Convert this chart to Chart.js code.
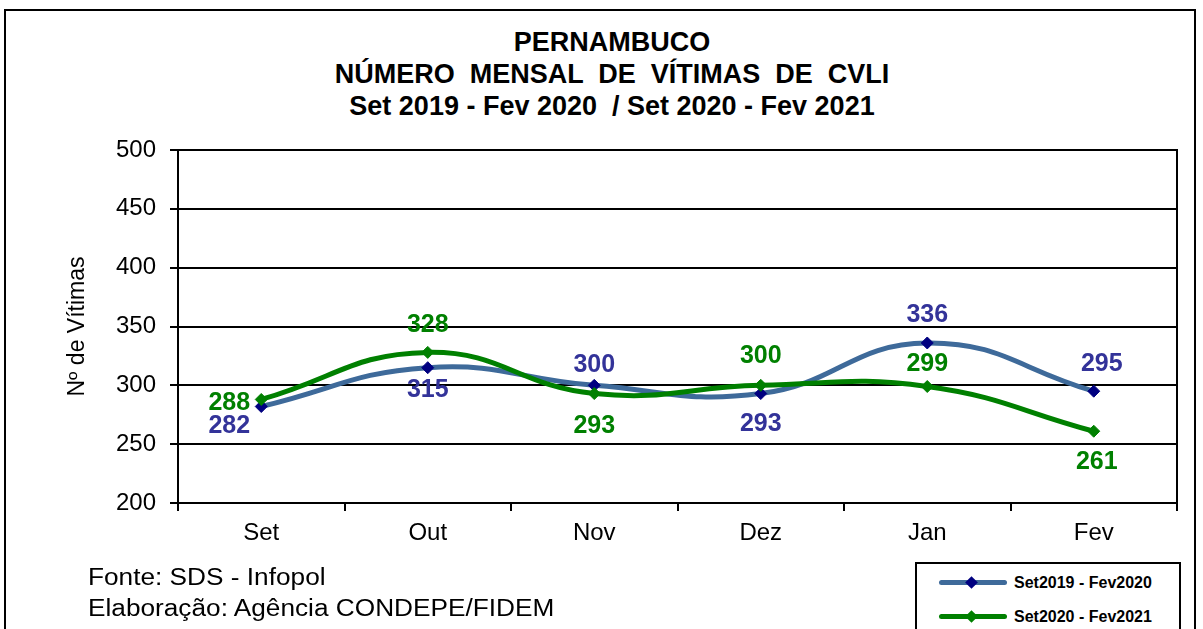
<!DOCTYPE html>
<html><head><meta charset="utf-8">
<script src="https://cdn.jsdelivr.net/npm/chart.js@4.4.0/dist/chart.umd.min.js"></script>
<style>
html,body{margin:0;padding:0;background:#fff;}
#wrap{position:relative;width:1203px;height:629px;overflow:hidden;font-family:"Liberation Sans",Arial,sans-serif;}
#frame{position:absolute;left:4px;top:9px;width:1192px;height:640px;border:2px solid #000;box-sizing:border-box;}
#title{position:absolute;left:2px;width:1220px;top:26px;text-align:center;font-weight:bold;font-size:27px;line-height:32px;white-space:pre;color:#000;}
canvas{position:absolute;left:0;top:0;}
.foot{position:absolute;left:88px;font-size:23px;line-height:27px;color:#000;white-space:pre;transform:scaleX(1.14);transform-origin:0 0;}
#legend{position:absolute;left:915px;top:562px;width:266px;height:80px;border:2px solid #000;box-sizing:border-box;background:#fff;}
.li{position:absolute;left:22px;height:20px;}
.li .ln{position:absolute;left:0;top:7px;width:68px;height:5px;border-radius:3px;}
.li .dm{position:absolute;left:28px;top:5px;width:9px;height:9px;transform:rotate(45deg);}
.li .tx{position:absolute;left:75px;top:0;font-weight:bold;font-size:16px;white-space:pre;line-height:20px;}
</style></head>
<body><div id="wrap">
<div id="frame"></div>
<div id="title">PERNAMBUCO
NÚMERO  MENSAL  DE  VÍTIMAS  DE  CVLI
Set 2019 - Fev 2020  / Set 2020 - Fev 2021</div>
<canvas id="c" width="1203" height="629"></canvas>
<div class="foot" style="top:564px">Fonte: SDS - Infopol</div>
<div class="foot" style="top:595px">Elaboração: Agência CONDEPE/FIDEM</div>
<div id="legend">
 <div class="li" style="top:9px"><div class="ln" style="background:#3E6A9A"></div><div class="dm" style="background:#000080"></div><div class="tx">Set2019 - Fev2020</div></div>
 <div class="li" style="top:43px"><div class="ln" style="background:#008000"></div><div class="dm" style="background:#008000"></div><div class="tx">Set2020 - Fev2021</div></div>
</div>
</div>
<script>
const categories = ["Set","Out","Nov","Dez","Jan","Fev"];
const serie2019 = [282,315,300,293,336,295];
const serie2020 = [288,328,293,300,299,261];
const yTicks = [200,250,300,350,400,450,500];

// label offsets (style only)
const off2019 = [[-32,20],[0,22],[0,-20],[0,31],[0,-28],[8,-27]];
const off2020 = [[-32,4],[0,-27],[0,33],[0,-29],[0,-22],[3,31]];

const FONT = '"Liberation Sans", Arial, sans-serif';

const labelPlugin = {
  id:'vals',
  afterDatasetsDraw(chart){
    const ctx = chart.ctx;
    ctx.save();
    ctx.font = 'bold 25px ' + FONT;
    ctx.textAlign='center'; ctx.textBaseline='middle';
    chart.data.datasets.forEach((ds,i)=>{
      const meta = chart.getDatasetMeta(i);
      meta.data.forEach((pt,j)=>{
        const o = ds.labelOffsets[j];
        ctx.fillStyle = ds.labelColor;
        ctx.fillText(String(ds.data[j]), pt.x+o[0], pt.y+o[1]);
      });
    });
    ctx.restore();
  },
  afterDraw(chart){
    const a = chart.chartArea, ctx = chart.ctx;
    ctx.save(); ctx.strokeStyle='#000'; ctx.lineWidth=2;
    ctx.beginPath(); ctx.moveTo(a.left,a.top); ctx.lineTo(a.right,a.top); ctx.lineTo(a.right,a.bottom); ctx.stroke();
    ctx.restore();
  }
};

new Chart(document.getElementById('c'),{
  type:'line',
  data:{labels:categories,datasets:[
    {label:'Set2019 - Fev2020',data:serie2019,borderColor:'#3E6A9A',backgroundColor:'#000080',pointBackgroundColor:'#000080',pointBorderColor:'#000080',
     borderWidth:5,tension:0.45,pointStyle:'rectRot',pointRadius:6,pointBorderWidth:1,order:1,labelColor:'#333399',labelOffsets:off2019},
    {label:'Set2020 - Fev2021',data:serie2020,borderColor:'#008000',backgroundColor:'#008000',pointBackgroundColor:'#008000',pointBorderColor:'#008000',
     borderWidth:5,tension:0.45,pointStyle:'rectRot',pointRadius:6,pointBorderWidth:1,order:0,labelColor:'#008000',labelOffsets:off2020}
  ]},
  options:{
    responsive:false,animation:false,
    layout:{padding:{left:0,right:26,top:150,bottom:66}},
    plugins:{legend:{display:false},tooltip:{enabled:false}},
    scales:{
      x:{offset:true,
        grid:{offset:true,drawOnChartArea:false,color:'#000',lineWidth:2,tickLength:8},
        border:{color:'#000',width:2},
        ticks:{color:'#000',font:{size:24,family:FONT},padding:8},
        afterFit(s){s.height=60;}
      },
      y:{min:200,max:500,
        afterBuildTicks(s){s.ticks=yTicks.map(v=>({value:v}));},
        grid:{color:'#000',lineWidth:2,tickLength:8},
        border:{color:'#000',width:2},
        ticks:{color:'#000',font:{size:24,family:FONT},padding:14},
        title:{display:true,text:'Nº de Vítimas',color:'#000',font:{size:23,family:FONT},padding:{top:64,bottom:0}},
        afterFit(s){s.width=178;}
      }
    }
  },
  plugins:[labelPlugin]
});
</script>
</body></html>
